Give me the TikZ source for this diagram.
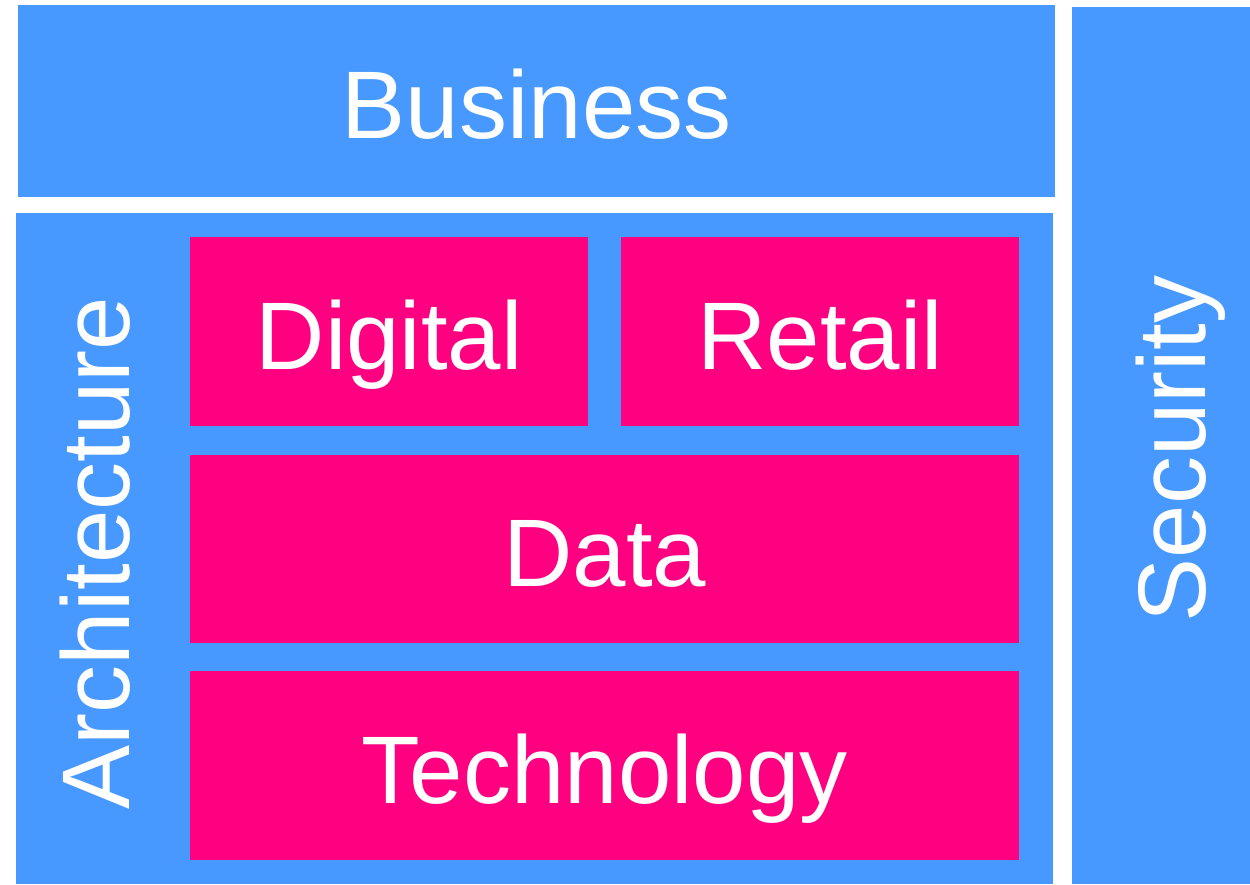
\documentclass[tikz,border=0pt]{standalone}
\usepackage{fontspec}
\setmainfont{Liberation Sans}
\usetikzlibrary{positioning}

\definecolor{layerblue}{HTML}{4899FF}
\definecolor{layerpink}{HTML}{FF0080}

\tikzset{
  layer/.style={fill=layerblue, inner sep=0pt, anchor=north west, text=white,
    font=\fontsize{96}{110}\selectfont, text height=75pt, text depth=0pt},
  block/.style={layer, fill=layerpink},
  sidetext/.style={rotate=90, inner sep=0pt, text=white,
    font=\fontsize{96}{110}\selectfont, text height=68.7pt, text depth=0pt}
}

\begin{document}
\begin{tikzpicture}[x=1pt, y=-1pt]
\useasboundingbox (0,0) rectangle (1250,884);

% outer layers
\node[layer, minimum width=1037pt, minimum height=192pt] (business) at (18,5) {Business};
\node[layer, minimum width=178pt, minimum height=877pt] (security) at (1072,7) {};
\node[layer, minimum width=1037pt, minimum height=671pt] (architecture) at (16,213) {};

% inner blocks
\node[block, minimum width=398pt, minimum height=189pt] (digital) at (190,237) {Digital};
\node[block, minimum width=398pt, minimum height=189pt] (retail) at (621,237) {Retail};
\node[block, minimum width=829pt, minimum height=188pt] (data) at (190,455) {Data};
\node[block, minimum width=829pt, minimum height=189pt] (technology) at (190,671) {Technology};

% side labels
\node[sidetext] (archlabel) at (95,553) {Architecture};
\node[sidetext] (seclabel) at (1171,449) {Security};
\end{tikzpicture}
\end{document}
